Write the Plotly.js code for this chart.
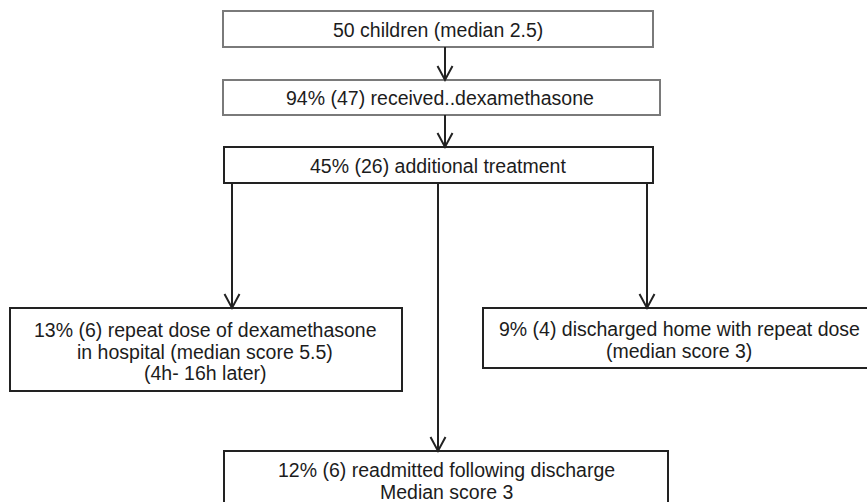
<!DOCTYPE html>
<html>
<head>
<meta charset="utf-8">
<script src="https://cdn.plot.ly/plotly-3.0.1.min.js"></script>
<style>html,body{margin:0;padding:0;background:#fff;}#chart{width:867px;height:502px;}</style>
</head>
<body>
<div id="chart"></div>
<script>
// ---- Flowchart content ----
const boxIds = ["all", "dex", "additional", "repeatHosp", "dischargedHome", "readmitted"];
const boxLabels = [
  ["50 children (median 2.5)"],
  ["94% (47) received..dexamethasone"],
  ["45% (26) additional treatment"],
  ["13% (6) repeat dose of dexamethasone", "in hospital (median score 5.5)", "(4h- 16h later)"],
  ["9% (4) discharged home with repeat dose", "(median score 3)"],
  ["12% (6) readmitted following discharge", "Median score 3"]
];
const linkFrom = ["all", "dex", "additional", "additional", "additional"];
const linkTo   = ["dex", "additional", "repeatHosp", "readmitted", "dischargedHome"];

// ---- Layout geometry (pixel space) ----
const boxGeom = {
  all:            {x0: 223, x1: 653, y0: 11,  y1: 47,  color: "#7a7a7a"},
  dex:            {x0: 223, x1: 660, y0: 80,  y1: 115, color: "#7a7a7a"},
  additional:     {x0: 224, x1: 653, y0: 147, y1: 183, color: "#222222"},
  repeatHosp:     {x0: 10,  x1: 402, y0: 308, y1: 391, color: "#222222"},
  dischargedHome: {x0: 483, x1: 876, y0: 308, y1: 368, color: "#222222"},
  readmitted:     {x0: 224, x1: 668, y0: 451, y1: 520, color: "#222222"}
};
const textCenter = {
  all: [438, 30], dex: [440, 98], additional: [438, 166],
  repeatHosp: [205, 330], dischargedHome: [679, 329], readmitted: [446, 470]
};
const linkX = [445, 445, 232, 438, 647];
const lineGap = 21.5;
const fontSize = 19.5;

const shapes = [];
const annotations = [];

boxIds.forEach((id, i) => {
  const g = boxGeom[id];
  shapes.push({type: "rect", xref: "x", yref: "y", x0: g.x0, x1: g.x1, y0: g.y0, y1: g.y1,
    line: {color: g.color, width: 2}, fillcolor: "rgba(0,0,0,0)"});
  const [cx, cy] = textCenter[id];
  boxLabels[i].forEach((t, k) => {
    annotations.push({xref: "x", yref: "y", x: cx, y: cy + k * lineGap, text: t, showarrow: false,
      xanchor: "center", yanchor: "middle",
      font: {family: "Liberation Sans, Arial, sans-serif", size: fontSize, color: "#1c1c1c"}});
  });
});

linkFrom.forEach((f, i) => {
  const a = boxGeom[f], b = boxGeom[linkTo[i]], x = linkX[i];
  const yS = a.y1, yE = b.y0;
  shapes.push({type: "line", xref: "x", yref: "y", x0: x, x1: x, y0: yS, y1: yE,
    line: {color: "#222222", width: 2}});
  shapes.push({type: "path", xref: "x", yref: "y",
    path: `M ${x - 7.5} ${yE - 14} L ${x} ${yE} L ${x + 7.5} ${yE - 14}`,
    line: {color: "#222222", width: 2}});
});

const layout = {
  width: 867, height: 502,
  margin: {l: 0, r: 0, t: 0, b: 0},
  paper_bgcolor: "#ffffff", plot_bgcolor: "#ffffff",
  showlegend: false,
  xaxis: {range: [0, 867], visible: false, fixedrange: true},
  yaxis: {range: [502, 0], visible: false, fixedrange: true},
  shapes: shapes,
  annotations: annotations
};

Plotly.newPlot("chart", [{x: [], y: [], type: "scatter", mode: "markers", hoverinfo: "skip"}], layout, {staticPlot: true, displayModeBar: false});
</script>
</body>
</html>
